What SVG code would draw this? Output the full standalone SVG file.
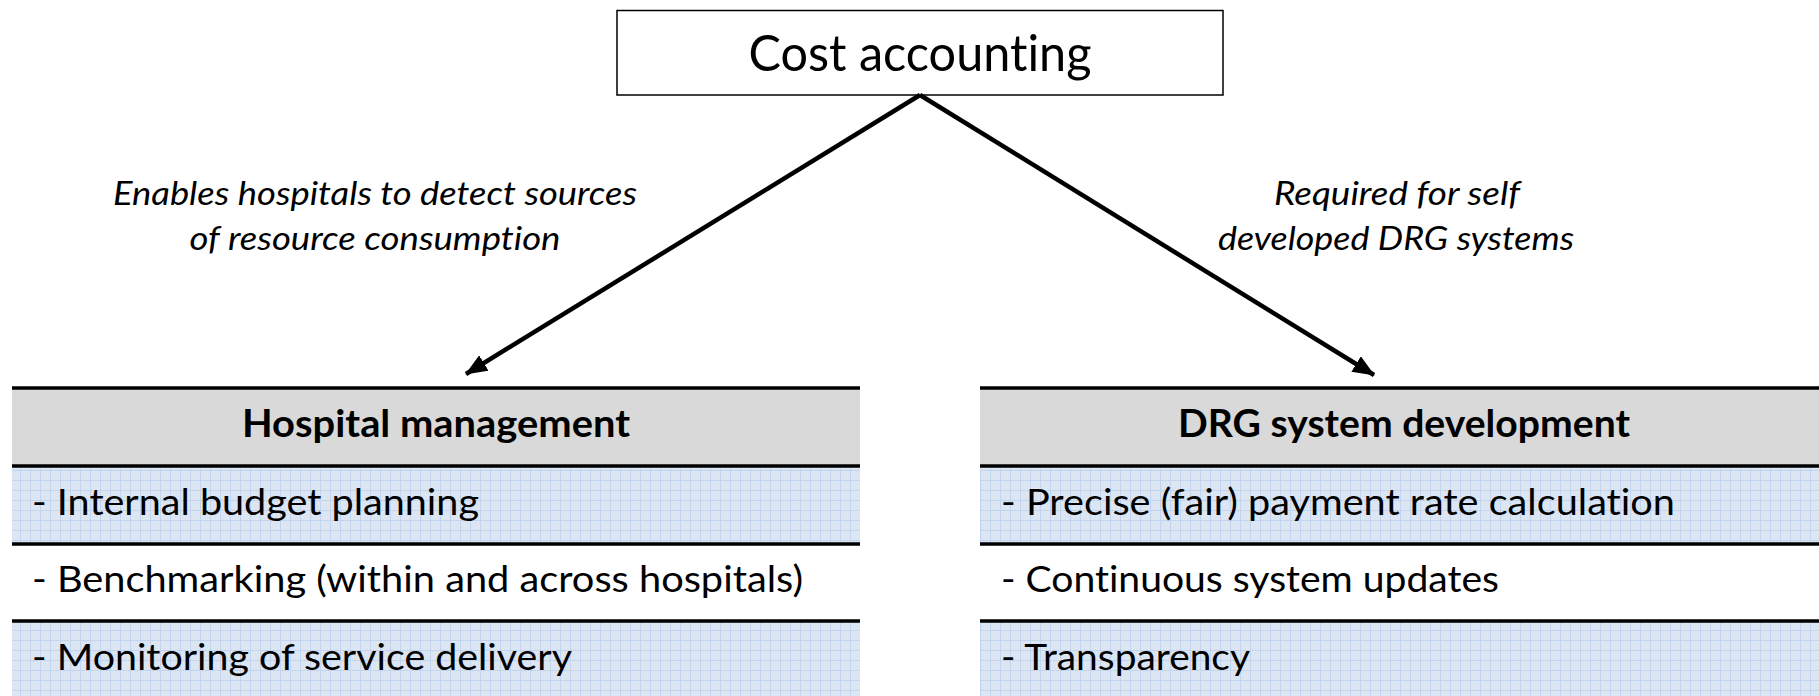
<svg xmlns="http://www.w3.org/2000/svg" width="1819" height="696" viewBox="0 0 1819 696">
  <style>
    text { font-family: Lato, "Open Sans", "Liberation Sans", sans-serif; fill: #000; font-variant-ligatures: none; font-feature-settings: "liga" 0, "dlig" 0; }
    .title { font-size: 50px; }
    .lbl { font-size: 33px; font-style: italic; }
    .hdr { font-size: 38px; font-weight: bold; }
    .item { font-size: 37px; }
    .rule { stroke: #000; stroke-width: 3.5; }
    .conn { stroke: #000; stroke-width: 4.5; fill: none; }
  </style>
  <defs>
    <pattern id="grid" width="10" height="10" patternUnits="userSpaceOnUse">
      <rect width="10" height="10" fill="#dce6f2"/>
      <path d="M0 0.5H10M0.5 0V10" stroke="#c3d4ee" stroke-width="1"/>
    </pattern>
    <marker id="ah" markerUnits="userSpaceOnUse" markerWidth="22" markerHeight="18" refX="21" refY="9" orient="auto">
      <path d="M0 0 L22 9 L0 18 Z" fill="#000"/>
    </marker>
  </defs>
  <rect width="1819" height="696" fill="#fff"/>

  <g id="cost-accounting">
    <rect x="617" y="10.5" width="606" height="84.5" fill="#fff" stroke="#000" stroke-width="1.5"/>
    <text class="title" x="920" y="71" text-anchor="middle" textLength="343" lengthAdjust="spacingAndGlyphs">Cost accounting</text>
  </g>

  <g id="connectors">
    <line class="conn" x1="920" y1="95" x2="466" y2="374" marker-end="url(#ah)"/>
    <line class="conn" x1="920" y1="95" x2="1374" y2="375" marker-end="url(#ah)"/>
    <text class="lbl" x="375" y="205" text-anchor="middle" textLength="524" lengthAdjust="spacingAndGlyphs">Enables hospitals to detect sources</text>
    <text class="lbl" x="375" y="249.5" text-anchor="middle" textLength="371" lengthAdjust="spacingAndGlyphs">of resource consumption</text>
    <text class="lbl" x="1397" y="205" text-anchor="middle" textLength="246" lengthAdjust="spacingAndGlyphs">Required for self</text>
    <text class="lbl" x="1396" y="249.5" text-anchor="middle" textLength="356" lengthAdjust="spacingAndGlyphs">developed DRG systems</text>
  </g>

  <g id="hospital-management">
    <rect x="12" y="388" width="848" height="78" fill="#d9d9d9"/>
    <rect x="12" y="466" width="848" height="78" fill="url(#grid)"/>
    <rect x="12" y="544" width="848" height="77" fill="#fff"/>
    <rect x="12" y="621" width="848" height="75" fill="url(#grid)"/>
    <line class="rule" x1="12" y1="388" x2="860" y2="388"/>
    <line class="rule" x1="12" y1="466" x2="860" y2="466"/>
    <line class="rule" x1="12" y1="544" x2="860" y2="544"/>
    <line class="rule" x1="12" y1="621" x2="860" y2="621"/>
    <text class="hdr" x="436" y="437" text-anchor="middle" textLength="388" lengthAdjust="spacingAndGlyphs">Hospital management</text>
    <text class="item" x="32" y="515" textLength="447" lengthAdjust="spacingAndGlyphs">- Internal budget planning</text>
    <text class="item" x="32" y="592" textLength="771" lengthAdjust="spacingAndGlyphs">- Benchmarking (within and across hospitals)</text>
    <text class="item" x="32" y="670" textLength="540" lengthAdjust="spacingAndGlyphs">- Monitoring of service delivery</text>
  </g>

  <g id="drg-system-development">
    <rect x="980" y="388" width="848" height="78" fill="#d9d9d9"/>
    <rect x="980" y="466" width="848" height="78" fill="url(#grid)"/>
    <rect x="980" y="544" width="848" height="77" fill="#fff"/>
    <rect x="980" y="621" width="848" height="75" fill="url(#grid)"/>
    <line class="rule" x1="980" y1="388" x2="1828" y2="388"/>
    <line class="rule" x1="980" y1="466" x2="1828" y2="466"/>
    <line class="rule" x1="980" y1="544" x2="1828" y2="544"/>
    <line class="rule" x1="980" y1="621" x2="1828" y2="621"/>
    <text class="hdr" x="1404" y="437" text-anchor="middle" textLength="452" lengthAdjust="spacingAndGlyphs">DRG system development</text>
    <text class="item" x="1001" y="515" textLength="674" lengthAdjust="spacingAndGlyphs">- Precise (fair) payment rate calculation</text>
    <text class="item" x="1001" y="592" textLength="498" lengthAdjust="spacingAndGlyphs">- Continuous system updates</text>
    <text class="item" x="1001" y="670" textLength="249" lengthAdjust="spacingAndGlyphs">- Transparency</text>
  </g>
</svg>
